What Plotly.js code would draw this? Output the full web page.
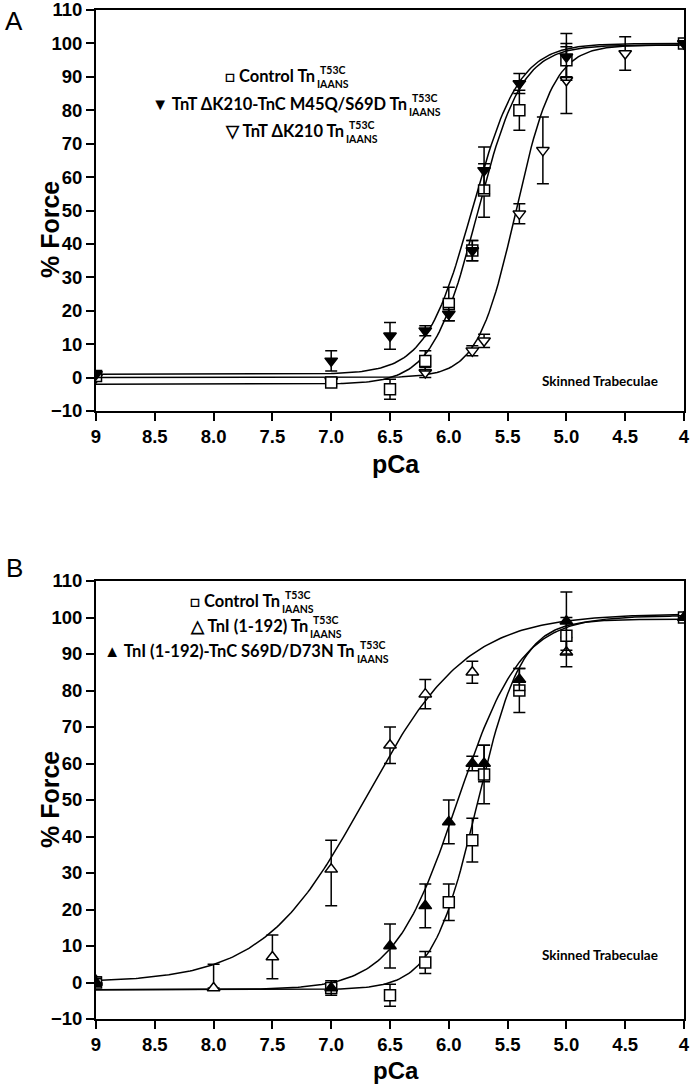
<!DOCTYPE html>
<html>
<head>
<meta charset="utf-8">
<script src="https://cdn.plot.ly/plotly-3.0.1.min.js"></script>
<style>
html,body{margin:0;padding:0;background:#fff;}
#chart{width:693px;height:1085px;}
</style>
</head>
<body>
<div id="chart"></div>
<script>
// ---------- DATA ----------
// x tick labels
const tickVals = [9, 8.5, 8, 7.5, 7, 6.5, 6, 5.5, 5, 4.5, 4];
const tickText = ['9', '8.5', '8.0', '7.5', '7.0', '6.5', '6.0', '5.5', '5.0', '4.5', '4'];

// Panel A — Control
const pCaCtrl = [9, 7.0, 6.5, 6.2, 6.0, 5.8, 5.7, 5.4, 5.0, 4.0];
const ctrlA = [0.5, -1.5, -3.5, 5, 22, 38, 56, 80, 95, 100];
const ctrlAErr = [1, 1, 3, 3, 5, 3, 8, 6, 5, 0.5];

// Panel A — TnT ΔK210-TnC M45Q/S69D (filled down triangles)
const pCaK210M = [9, 7.0, 6.5, 6.2, 6.0, 5.8, 5.7, 5.4, 5.0, 4.0];
const k210M = [1, 5, 12.5, 14, 19, 38, 62, 88, 96, 100];
const k210MErr = [1, 3, 4, 1.5, 2, 3, 7, 3, 7, 0.5];

// Panel A — TnT ΔK210 (open down triangles)
const pCaK210 = [9, 7.0, 6.2, 5.8, 5.7, 5.4, 5.2, 5.0, 4.5, 4.0];
const k210 = [0, -1, 1.5, 8, 11, 49, 68, 89, 97, 100];
const k210Err = [1, 1, 1.5, 1.5, 2, 3, 10, 10, 5, 0.5];

// Panel B — Control
const ctrlB = [0, -1.5, -3.5, 5.5, 22, 39, 57, 80, 95, 100];
const ctrlBErr = [1, 1, 3, 3, 5, 6, 8, 6, 5, 0.5];

// Panel B — TnI (1-192) (open up triangles)
const pCaTnI = [9, 8.0, 7.5, 7.0, 6.5, 6.2, 5.8, 5.0, 4.0];
const tnI = [0.5, -1.5, 7, 31, 65, 79, 85, 90.5, 100];
const tnIErrPlus = [1, 6.5, 6, 8, 5, 4, 3, 4, 0.5];
const tnIErrMinus = [1, 0, 6, 10, 5, 4, 3, 4, 0.5];

// Panel B — TnI (1-192)-TnC S69D/D73N (filled up triangles)
const pCaTnIC = [9, 7.0, 6.5, 6.2, 6.0, 5.8, 5.7, 5.4, 5.0, 4.0];
const tnIC = [0, -1.5, 10, 21, 44, 60, 60, 83, 99, 100];
const tnICErr = [1, 2, 6, 6, 6, 2, 5, 3, 8, 0.5];

// Hill fit parameters: [pCa50, nH, min, max]
const fitCtrl = [5.76, 2.3, -2, 99.5];
const fitK210M = [5.80, 2.2, 1, 100];
const fitK210 = [5.43, 2.7, 0, 99.5];
const fitTnI = [6.71, 1.0, 0, 101];
const fitTnIC = [5.93, 1.6, -2, 100.5];

// ---------- HELPERS ----------
function hill(p, par) {
  return par[2] + (par[3] - par[2]) / (1 + Math.pow(10, par[1] * (p - par[0])));
}
function curve(par, xa, ya) {
  const xs = [], ys = [];
  for (let i = 0; i <= 250; i++) {
    const p = 9 - i * 0.02;
    xs.push(p); ys.push(hill(p, par));
  }
  return {x: xs, y: ys, xaxis: xa, yaxis: ya, mode: 'lines', type: 'scatter',
          line: {color: '#000', width: 1.5}, hoverinfo: 'skip', showlegend: false};
}
function pts(x, y, ep, em, sym, fill, xa, ya, name) {
  return {x: x, y: y, xaxis: xa, yaxis: ya, mode: 'markers', type: 'scatter', name: name,
    showlegend: false,
    marker: {symbol: sym, size: 11, color: fill, line: {color: '#000', width: 1.5}},
    error_y: {type: 'data', symmetric: false, array: ep, arrayminus: em,
              color: '#000', thickness: 1.5, width: 6}};
}

const traces = [
  curve(fitCtrl, 'x', 'y'), curve(fitK210M, 'x', 'y'), curve(fitK210, 'x', 'y'),
  pts(pCaK210, k210, k210Err, k210Err, 'triangle-down', '#fff', 'x', 'y', 'TnT ΔK210'),
  pts(pCaCtrl, ctrlA, ctrlAErr, ctrlAErr, 'square', '#fff', 'x', 'y', 'Control'),
  pts(pCaK210M, k210M, k210MErr, k210MErr, 'triangle-down', '#000', 'x', 'y', 'TnT ΔK210-TnC M45Q/S69D'),
  curve(fitCtrl, 'x2', 'y2'), curve(fitTnI, 'x2', 'y2'), curve(fitTnIC, 'x2', 'y2'),
  pts(pCaTnI, tnI, tnIErrPlus, tnIErrMinus, 'triangle-up', '#fff', 'x2', 'y2', 'TnI (1-192)'),
  pts(pCaCtrl, ctrlB, ctrlBErr, ctrlBErr, 'square', '#fff', 'x2', 'y2', 'Control'),
  pts(pCaTnIC, tnIC, tnICErr, tnICErr, 'triangle-up', '#000', 'x2', 'y2', 'TnI (1-192)-TnC S69D/D73N')
];

// pixel geometry of the plot area
const L = 96, R = 684, T = 10, B = 1019;
const px = v => (v - L) / (R - L);
const py = v => (B - v) / (B - T);

const tickFont = {family: 'Liberation Sans, Arial, sans-serif', size: 18.5, color: '#000', weight: 'bold'};
function xax(anchor) {
  return {anchor: anchor, range: [9, 4], tickmode: 'array', tickvals: tickVals, ticktext: tickText,
    ticks: 'outside', ticklen: 8, tickwidth: 2, tickcolor: '#000', showline: true, linewidth: 2,
    linecolor: '#000', mirror: true, showgrid: false, zeroline: false, tickfont: tickFont,
    ticklabeloverflow: 'allow'};
}
function yax(anchor, dom) {
  return {anchor: anchor, domain: dom, range: [-10, 110], tickmode: 'array',
    tickvals: [-10, 0, 10, 20, 30, 40, 50, 60, 70, 80, 90, 100, 110],
    ticks: 'outside', ticklen: 8, tickwidth: 2, tickcolor: '#000', showline: true, linewidth: 2,
    linecolor: '#000', mirror: true, showgrid: false, zeroline: false, tickfont: tickFont,
    ticklabeloverflow: 'allow'};
}

const legFont = {family: 'Lato, Open Sans, sans-serif', size: 16.5, color: '#000', weight: 'bold'};
const supFont = {family: 'Lato, Open Sans, sans-serif', size: 10.5, color: '#000', weight: 'bold'};
const annots = [];
function note(text, x, y, font, extra) {
  annots.push(Object.assign({xref: 'paper', yref: 'paper', x: px(x), y: py(y),
    xanchor: 'center', yanchor: 'middle', text: text, showarrow: false, font: font}, extra || {}));
}
function legendLine(text, xEnd, yc) {
  note(text, xEnd, yc, legFont, {xanchor: 'right', borderpad: 0});
  note('T53C<br>IAANS', xEnd, yc + 1, supFont, {xanchor: 'left', borderpad: 0});
}
legendLine('□ Control Tn', 316, 76);
legendLine('▼ TnT ΔK210-TnC M45Q/S69D Tn', 408, 104);
legendLine('▽ TnT ΔK210 Tn', 345, 131);
legendLine('□ Control Tn', 281, 601);
legendLine('△ TnI (1-192) Tn', 309, 626);
legendLine('▲ TnI (1-192)-TnC S69D/D73N Tn', 356, 651);

const titleFont = {family: 'Liberation Sans, Arial, sans-serif', size: 25, color: '#000', weight: 'bold'};
const noteFont = {family: 'Lato, Open Sans, sans-serif', size: 13.5, color: '#000', weight: 'bold'};
const labFont = {family: 'Liberation Sans, Arial, sans-serif', size: 26, color: '#000'};
note('Skinned Trabeculae', 600, 381, noteFont);
note('Skinned Trabeculae', 600, 955, noteFont);
note('pCa', 396, 464, titleFont);
note('pCa', 396, 1070, {family: 'Liberation Sans, Arial, sans-serif', size: 24, color: '#000', weight: 'bold'});
note('% Force', 50, 230, titleFont, {textangle: -90});
note('% Force', 50, 800, titleFont, {textangle: -90});
note('A', 14, 21, labFont);
note('B', 14, 568, labFont);

const layout = {
  width: 693, height: 1085, paper_bgcolor: '#fff', plot_bgcolor: '#fff',
  margin: {l: L, r: 693 - R, t: T, b: 1085 - B},
  showlegend: false,
  xaxis: xax('y'),
  yaxis: yax('x', [py(411), 1]),
  xaxis2: xax('y2'),
  yaxis2: yax('x2', [0, py(581)]),
  annotations: annots
};

Plotly.newPlot('chart', traces, layout, {displayModeBar: false, staticPlot: true});
</script>
</body>
</html>
